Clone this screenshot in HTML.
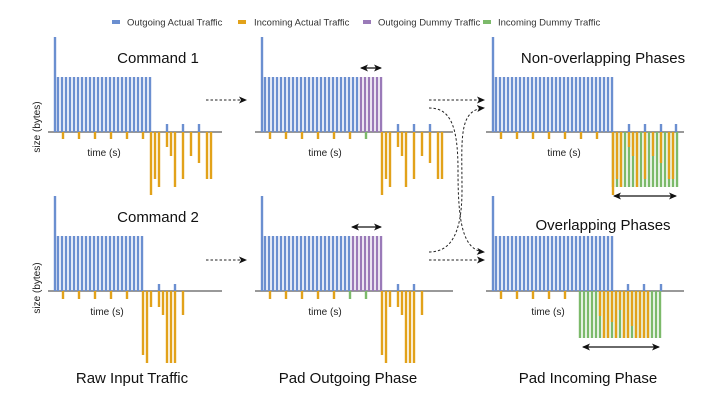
<!DOCTYPE html>
<html><head><meta charset="utf-8"><style>
body{margin:0;background:#fff;}
svg{display:block;font-family:"Liberation Sans",Arial,sans-serif;}
</style></head><body>
<svg id="s" width="720" height="401" viewBox="0 0 720 401" xmlns="http://www.w3.org/2000/svg">
<defs>
<marker id="ah" markerWidth="8" markerHeight="8" refX="7" refY="4" orient="auto" markerUnits="userSpaceOnUse"><path d="M0,0.5 L8,4 L0,7.5 L2,4 Z" fill="#111"/></marker>
<marker id="ah2" markerWidth="8" markerHeight="8" refX="1" refY="4" orient="auto" markerUnits="userSpaceOnUse"><path d="M8,0.5 L0,4 L8,7.5 L6,4 Z" fill="#111"/></marker>
</defs>
<rect x="112" y="20" width="8" height="4" fill="#6b8fd0"/><text x="127" y="25.5" font-size="9.5" fill="#333">Outgoing Actual Traffic</text>
<rect x="238" y="20" width="8" height="4" fill="#e2a21a"/><text x="254" y="25.5" font-size="9.5" fill="#333">Incoming Actual Traffic</text>
<rect x="363" y="20" width="8" height="4" fill="#9a7ab8"/><text x="378" y="25.5" font-size="9.5" fill="#333">Outgoing Dummy Traffic</text>
<rect x="483" y="20" width="8" height="4" fill="#7cba6a"/><text x="498" y="25.5" font-size="9.5" fill="#333">Incoming Dummy Traffic</text>
<text x="158" y="63" font-size="15" text-anchor="middle" fill="#111">Command 1</text>
<text x="158" y="222" font-size="15" text-anchor="middle" fill="#111">Command 2</text>
<text x="603" y="63" font-size="15" text-anchor="middle" fill="#111">Non-overlapping Phases</text>
<text x="603" y="230" font-size="15" text-anchor="middle" fill="#111">Overlapping Phases</text>
<text x="132" y="383" font-size="15" text-anchor="middle" fill="#111">Raw Input Traffic</text>
<text x="348" y="383" font-size="15" text-anchor="middle" fill="#111">Pad Outgoing Phase</text>
<text x="588" y="383" font-size="15" text-anchor="middle" fill="#111">Pad Incoming Phase</text>
<text x="104" y="156" font-size="10" text-anchor="middle" fill="#222">time (s)</text>
<text x="325" y="156" font-size="10" text-anchor="middle" fill="#222">time (s)</text>
<text x="564" y="156" font-size="10" text-anchor="middle" fill="#222">time (s)</text>
<text x="107" y="315" font-size="10" text-anchor="middle" fill="#222">time (s)</text>
<text x="325" y="315" font-size="10" text-anchor="middle" fill="#222">time (s)</text>
<text x="548" y="315" font-size="10" text-anchor="middle" fill="#222">time (s)</text>
<text transform="translate(40,127) rotate(-90)" font-size="10" text-anchor="middle" fill="#222">size (bytes)</text>
<text transform="translate(40,288) rotate(-90)" font-size="10" text-anchor="middle" fill="#222">size (bytes)</text>
<g stroke="#222" stroke-width="1" fill="none" stroke-dasharray="2.5,2">
<line x1="206" y1="100" x2="246" y2="100" marker-end="url(#ah)"/>
<line x1="206" y1="260" x2="246" y2="260" marker-end="url(#ah)"/>
<line x1="429" y1="100" x2="484" y2="100" marker-end="url(#ah)"/>
<line x1="429" y1="260" x2="484" y2="260" marker-end="url(#ah)"/>
<path d="M429,108 C450,108 458,125 458,170 C458,220 462,250 484,252" marker-end="url(#ah)"/>
<path d="M429,252 C450,252 462,235 462,190 C462,140 458,110 484,108" marker-end="url(#ah)"/>
</g>
<g stroke="#111" stroke-width="1.2">
<line x1="361" y1="68" x2="381" y2="68" marker-start="url(#ah2)" marker-end="url(#ah)"/>
<line x1="352" y1="227" x2="381" y2="227" marker-start="url(#ah2)" marker-end="url(#ah)"/>
<line x1="614" y1="196" x2="676" y2="196" marker-start="url(#ah2)" marker-end="url(#ah)"/>
<line x1="583" y1="347" x2="659" y2="347" marker-start="url(#ah2)" marker-end="url(#ah)"/>
</g>
<g id="bars"></g>
</svg>
<script>
var B="#6b8fd0",O="#e2a21a",P="#9a7ab8",G="#7cba6a";
var g=document.getElementById("bars"),h="";
function r(x,y1,y2,c){var t=Math.min(y1,y2),hh=Math.abs(y2-y1);h+='<rect x="'+(x-1.2)+'" y="'+t+'" width="2.4" height="'+hh+'" fill="'+c+'"/>';}
function axis(x1,x2,y){h+='<line x1="'+x1+'" y1="'+y+'" x2="'+x2+'" y2="'+y+'" stroke="#333" stroke-width="1"/>';}
var ay=132,tt=37,pt=77;
var inTop=[[151,195],[155,179],[159,187],[167,147],[171,156],[175,187],[183,179],[191,156],[199,163],[207,179],[211,179]];
function topPanel(dx,mode){
 axis(48+dx,222+dx+(mode?24:0),ay);
 r(55+dx,tt,ay,B);
 var end=mode?175:151;
 for(var x=58;x<=end;x+=4){r(x+dx,pt,ay,(mode==1&&x>152)?P:B);}
 var tk=[63,79,95,111,127,143];
 if(mode==2)tk.push(159);
 tk.forEach(function(x){r(x+dx,ay,139,O);});
 if(mode==1)r(159+dx,ay,139,G);
 var sh=mode?24:0;
 [167,183,199].forEach(function(x){r(x+dx+sh,124,ay,B);});
 if(mode==2){r(238+dx,124,ay,B);
  var m={};inTop.forEach(function(a){m[a[0]+24]=a[1];});
  for(var x=175;x<=239;x+=4){var d=m[x]||m[x+1]||m[x-1];r(x+dx,ay,187,G);if(d)r(x+dx,ay,d,O);}
 } else inTop.forEach(function(a){r(a[0]+dx+sh,ay,a[1],O);});
}
topPanel(0,0);topPanel(207,1);topPanel(438,2);
var by=291,bt=196,bp=236;
var inBot=[[143,355],[147,363],[151,307],[159,307],[163,315],[167,363],[171,363],[175,363],[183,315]];
function botPanel(dx,mode){
 axis(48+dx,222+dx+(mode?24:0),by);
 r(55+dx,bt,by,B);
 var end=mode==1?176:(mode==2?175:144);
 for(var x=58;x<=end;x+=4){r(x+dx,bp,by,(mode==1&&x>142)?P:B);}
 [63,79,95,111,127].forEach(function(x){r(x+dx,by,299,O);});
 if(mode==1){r(143+dx,by,299,G);r(159+dx,by,299,G);}
 if(mode==2){
  [190,206,223].forEach(function(x){r(x+dx,284,by,B);});
  var k=0;
  for(var x=142;x<=223;x+=4){r(x+dx,by,338,G);
   if(x>=162&&x<=212){var d=[316,338,338,322,338,310,338,338,326,338,338,338,338][k%13];k++;r(x+dx,by,d,O);}}
 } else {
  var sh=mode?32:0;
  [159,175].forEach(function(x){r(x+dx+sh,284,by,B);});
  inBot.forEach(function(a){r(a[0]+dx+sh,by,a[1],O);});
 }
}
botPanel(0,0);botPanel(207,1);botPanel(438,2);
g.innerHTML=h;
</script>
</body></html>
